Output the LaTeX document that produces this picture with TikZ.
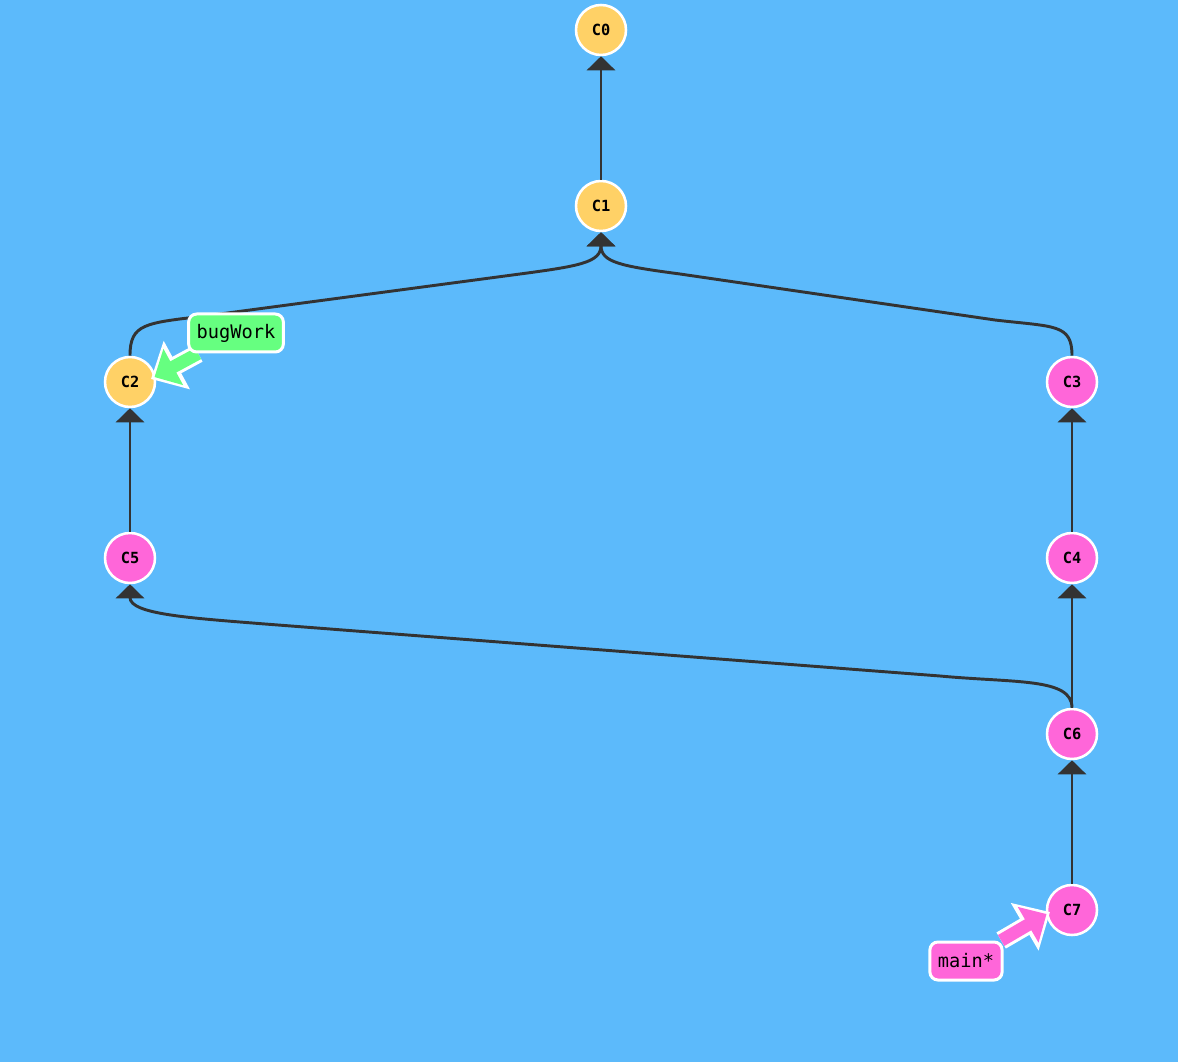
\documentclass[tikz,border=0pt]{standalone}
\usepackage{fontspec}
\setmonofont{DejaVu Sans Mono}
\usepackage{xcolor}
\usepackage{tikz}
\usetikzlibrary{arrows.meta}
\definecolor{bg}{HTML}{5CBAFB}
\definecolor{linegray}{HTML}{333333}
\definecolor{yel}{HTML}{FFD166}
\definecolor{commitpink}{HTML}{FF66D9}
\definecolor{branchgreen}{HTML}{66FF80}
\pgfdeclarelayer{back}
\pgfdeclarelayer{front}
\pgfsetlayers{back,main,front}
\tikzset{
  commit/.style={circle, draw=white, line width=1.9pt, minimum size=37.5pt, inner sep=0pt,
    font=\ttfamily\bfseries\fontsize{11.5}{11.5}\selectfont},
  done/.style={commit, fill=yel},
  todo/.style={commit, fill=commitpink},
  parent/.style={draw=linegray, line width=2.2pt, -{Triangle[length=10.5pt,width=21pt]}},
  branch/.style={draw=white, rounded corners=6pt, line width=2.25pt, minimum height=28.5pt,
    inner xsep=6pt, font=\ttfamily\fontsize{14}{14}\selectfont},
  ptrout/.style={draw=white, line width=14pt, -{Triangle[length=22pt,width=40pt]}},
  ptrin/.style={line width=9.5pt, shorten >=3pt, -{Triangle[length=16pt,width=30pt]}},
}

\begin{document}
\begin{tikzpicture}[x=0.75pt,y=-0.75pt]
  \useasboundingbox (0,0) rectangle (1178,1062);
  \begin{pgfonlayer}{back}
    \fill[bg] (0,0) rectangle (1178,1062);
    \node[done] (C0) at (601,30) {C0};
    \node[done] (C1) at (601,206) {C1};
    \node[done] (C2) at (130,382) {C2};
    \node[todo] (C3) at (1072,382) {C3};
    \node[todo] (C4) at (1072,558) {C4};
    \node[todo] (C5) at (130,558) {C5};
    \node[todo] (C6) at (1072,734) {C6};
    \node[todo] (C7) at (1072,910) {C7};
    \draw[parent] (C1) -- (C0);
    \draw[parent] (C2.north) .. controls +(0,-32) and +(-60,7) .. (205,316) -- (520,274)
      .. controls +(60,-8) and +(0,30) .. (C1.south);
    \draw[parent] (C3.north) .. controls +(0,-32) and +(60,7) .. (995,320) -- (680,274)
      .. controls +(-60,-8) and +(0,30) .. (C1.south);
    \draw[parent] (C5) -- (C2);
    \draw[parent] (C4) -- (C3);
    \draw[parent] (C6) -- (C4);
    \draw[parent] (C6.north) .. controls +(0,-30) and +(75,7) .. (940,676) -- (265,624)
      .. controls +(-75,-6) and +(0,30) .. (C5.south);
    \draw[parent] (C7) -- (C6);
  \end{pgfonlayer}
  \begin{pgfonlayer}{front}
    \node[branch, fill=branchgreen] (bugWork) at (236,333) {bugWork};
    \node[branch, fill=commitpink] (main) at (966,961) {main*};
  \end{pgfonlayer}
  \coordinate (bugTip) at ([shift={(21,-3)}]C2.center);
  \coordinate (mainTip) at ([shift={(-22,2)}]C7.center);
  \draw[ptrout] (bugWork) -- (bugTip);
  \draw[ptrin, draw=branchgreen] (bugWork) -- (bugTip);
  \draw[ptrout] (main) -- (mainTip);
  \draw[ptrin, draw=commitpink] (main) -- (mainTip);
\end{tikzpicture}
\end{document}
